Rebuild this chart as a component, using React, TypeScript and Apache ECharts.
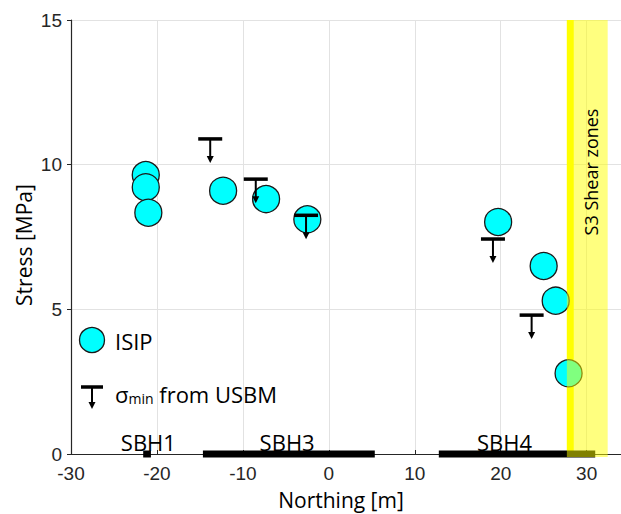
import React, { useEffect, useRef } from "react";
import * as echarts from "echarts";

// ISIP measurements (Northing [m], Stress [MPa])
const isipX = [-21.3, -21.3, -21.0, -12.3, -7.3, -2.5, 19.7, 25.0, 26.4, 27.9];
const isipY = [9.64, 9.22, 8.34, 9.1, 8.81, 8.11, 8.02, 6.5, 5.3, 2.79];

// sigma_min from USBM (upper bounds)
const usbmX = [-13.8, -8.5, -2.65, 19.1, 23.6];
const usbmY = [10.89, 9.5, 8.25, 7.43, 4.8];

// Boreholes along the Northing axis
const boreholeNames = ["SBH1", "SBH3", "SBH4"];
const boreholeStart = [-21.6, -14.65, 12.8];
const boreholeEnd = [-20.7, 5.35, 31.0];
const boreholeLabelX = [-21.0, -4.85, 20.45];

// Shear zones
const coreZoneStart = [27.7];
const coreZoneEnd = [28.5];
const shearZoneStart = [27.7];
const shearZoneEnd = [32.45];
const shearZoneLabel = "S3 Shear zones";

const xTicks = [-30, -20, -10, 0, 10, 20, 30];
const yTicks = [0, 5, 10, 15];

const TICK_FONT = "'Liberation Sans', Arial, sans-serif";
const TEXT_FONT = "'Open Sans', 'Noto Sans', sans-serif";

export default function App() {
  const ref = useRef<HTMLDivElement>(null);

  useEffect(() => {
    if (!ref.current) return;
    const chart = echarts.init(ref.current, undefined, { renderer: "svg" });

    const isipData = isipX.map((x, i) => [x, isipY[i]]);
    const usbmData = usbmX.map((x, i) => [x, usbmY[i]]);
    const boreData = boreholeNames.map((n, i) => [boreholeStart[i], boreholeEnd[i], boreholeLabelX[i], n]);
    const coreData = coreZoneStart.map((s, i) => [s, coreZoneEnd[i]]);
    const shearData = shearZoneStart.map((s, i) => [s, shearZoneEnd[i]]);

    const zoneRender = (fill: string) => (params: any, api: any) => {
      const x0 = api.value(0);
      const x1 = api.value(1);
      const top = api.coord([x0, yTicks[yTicks.length - 1]]);
      const bot = api.coord([x1, 0]);
      return {
        type: "rect",
        shape: { x: top[0], y: top[1], width: bot[0] - top[0], height: bot[1] - top[1] + 3 },
        style: { fill },
      };
    };

    const option: any = {
      animation: false,
      backgroundColor: "#ffffff",
      grid: { left: 71, right: 0, top: 20, bottom: 60, containLabel: false },
      xAxis: {
        type: "value",
        min: -30,
        max: 34,
        interval: 10,
        axisLine: { show: true, onZero: false, lineStyle: { color: "#262626", width: 1.2 } },
        axisTick: { show: true, inside: true, length: 4, lineStyle: { color: "#262626" } },
        splitLine: { show: true, lineStyle: { color: "#e2e2e2", width: 1 } },
        axisLabel: {
          showMaxLabel: false,
          fontFamily: TICK_FONT,
          fontSize: 19,
          color: "#262626",
          margin: 10,
          formatter: (v: number) => (xTicks.indexOf(v) >= 0 ? String(v) : ""),
        },
      },
      yAxis: {
        type: "value",
        min: 0,
        max: 15,
        interval: 5,
        axisLine: { show: true, onZero: false, lineStyle: { color: "#262626", width: 1.2 } },
        axisTick: { show: true, inside: false, length: 4, lineStyle: { color: "#262626" } },
        splitLine: { show: true, lineStyle: { color: "#e2e2e2", width: 1 } },
        axisLabel: {
          fontFamily: TICK_FONT,
          fontSize: 19,
          color: "#262626",
          margin: 9,
          formatter: (v: number) => (yTicks.indexOf(v) >= 0 ? String(v) : ""),
        },
      },
      series: [
        {
          type: "custom",
          name: "core zone",
          z: 1,
          silent: true,
          data: coreData,
          renderItem: zoneRender("#ffff00"),
        },
        {
          type: "custom",
          name: "boreholes",
          z: 2,
          silent: true,
          data: boreData,
          renderItem: (params: any, api: any) => {
            const a = api.coord([api.value(0), 0]);
            const b = api.coord([api.value(1), 0]);
            const l = api.coord([api.value(2), 0]);
            const name = boreData[params.dataIndex][3] as string;
            return {
              type: "group",
              children: [
                {
                  type: "rect",
                  shape: { x: a[0], y: a[1] - 3.5, width: b[0] - a[0], height: 7 },
                  style: { fill: "#000000" },
                },
                {
                  type: "text",
                  x: l[0],
                  y: a[1] - 1,
                  style: {
                    text: name,
                    fontFamily: TEXT_FONT,
                    fontSize: 22,
                    fill: "#000000",
                    align: "center",
                    verticalAlign: "bottom",
                  },
                },
              ],
            };
          },
        },
        {
          type: "scatter",
          name: "ISIP",
          z: 3,
          data: isipData,
          symbol: "circle",
          symbolSize: 27,
          itemStyle: { color: "#00ffff", borderColor: "#1a1a1a", borderWidth: 1.3, opacity: 1 },
        },
        {
          type: "custom",
          name: "USBM",
          z: 4,
          silent: true,
          data: usbmData,
          renderItem: (params: any, api: any) => {
            const p = api.coord([api.value(0), api.value(1)]);
            return {
              type: "group",
              children: [
                {
                  type: "line",
                  shape: { x1: p[0] - 12, y1: p[1], x2: p[0] + 12, y2: p[1] },
                  style: { stroke: "#000", lineWidth: 3.5 },
                },
                {
                  type: "line",
                  shape: { x1: p[0], y1: p[1], x2: p[0], y2: p[1] + 18 },
                  style: { stroke: "#000", lineWidth: 2 },
                },
                {
                  type: "polygon",
                  shape: { points: [[p[0] - 3.5, p[1] + 17], [p[0] + 3.5, p[1] + 17], [p[0], p[1] + 24]] },
                  style: { fill: "#000" },
                },
              ],
            };
          },
        },
        {
          type: "custom",
          name: "shear zone",
          z: 5,
          silent: true,
          data: shearData,
          renderItem: zoneRender("rgba(255,255,0,0.5)"),
        },
      ],
      graphic: [
        // y-axis title
        {
          type: "text",
          x: 24,
          y: 245,
          rotation: Math.PI / 2,
          style: {
            text: "Stress [MPa]",
            fontFamily: TEXT_FONT,
            fontSize: 21,
            fill: "#000",
            align: "center",
            verticalAlign: "middle",
          },
        },
        // x-axis title
        {
          type: "text",
          x: 341,
          y: 500,
          style: {
            text: "Northing [m]",
            fontFamily: TEXT_FONT,
            fontSize: 21,
            fill: "#000",
            align: "center",
            verticalAlign: "middle",
          },
        },
        // shear zone label
        {
          type: "text",
          x: 591,
          y: 172,
          z: 100,
          rotation: Math.PI / 2,
          style: {
            text: shearZoneLabel,
            fontFamily: TEXT_FONT,
            fontSize: 18,
            fill: "#000",
            align: "center",
            verticalAlign: "middle",
          },
        },
        // legend: ISIP
        {
          type: "circle",
          z: 100,
          shape: { cx: 92, cy: 340, r: 12.5 },
          style: { fill: "#00ffff", stroke: "#1a1a1a", lineWidth: 1.3 },
        },
        {
          type: "text",
          x: 115,
          y: 341,
          z: 100,
          style: {
            text: "ISIP",
            fontFamily: TEXT_FONT,
            fontSize: 22,
            fill: "#000",
            align: "left",
            verticalAlign: "middle",
          },
        },
        // legend: sigma min
        {
          type: "line",
          z: 100,
          shape: { x1: 81, y1: 387, x2: 103, y2: 387 },
          style: { stroke: "#000", lineWidth: 3.5 },
        },
        {
          type: "line",
          z: 100,
          shape: { x1: 92, y1: 387, x2: 92, y2: 403 },
          style: { stroke: "#000", lineWidth: 2 },
        },
        {
          type: "polygon",
          z: 100,
          shape: { points: [[88.5, 402], [95.5, 402], [92, 409]] },
          style: { fill: "#000" },
        },
        {
          type: "text",
          x: 115,
          y: 394,
          z: 100,
          style: {
            text: "{s|σ}{m|min}{t| from USBM}",
            align: "left",
            verticalAlign: "middle",
            rich: {
              s: { fontFamily: TEXT_FONT, fontSize: 22, fill: "#000", verticalAlign: "bottom" },
              m: { fontFamily: TEXT_FONT, fontSize: 14, fill: "#000", verticalAlign: "bottom" },
              t: { fontFamily: TEXT_FONT, fontSize: 22, fill: "#000", verticalAlign: "bottom" },
            },
          },
        },
      ],
    };

    chart.setOption(option);
    return () => chart.dispose();
  }, []);

  return (
    <div
      ref={ref}
      style={{ position: "absolute", left: 0, top: 0, width: 621, height: 514, background: "#fff" }}
    />
  );
}
